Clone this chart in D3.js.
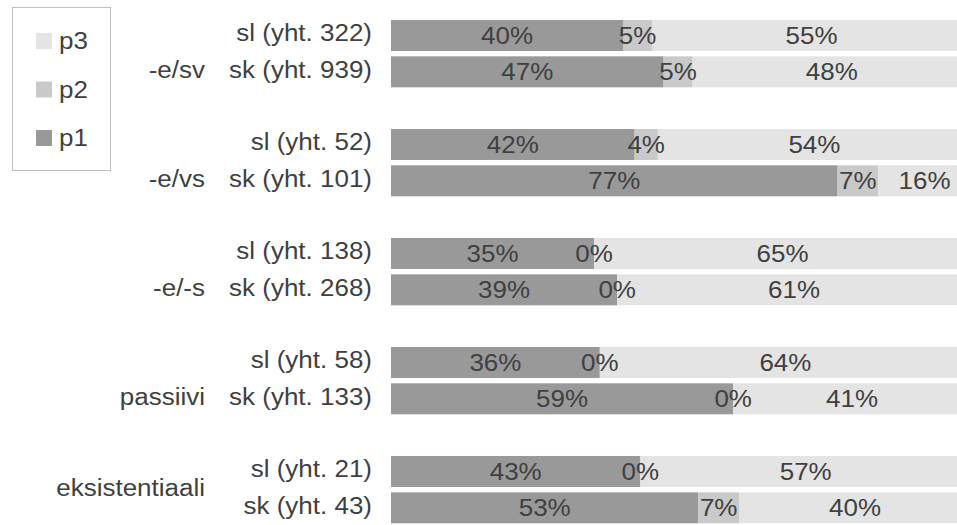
<!DOCTYPE html>
<html><head><meta charset="utf-8">
<script src="https://cdn.jsdelivr.net/npm/d3@7"></script>
<style>body{margin:0;background:#fff}svg{display:block}text{font-family:"Liberation Sans",Arial,sans-serif;fill:#404040}</style>
</head><body>
<script>
const groups = ["-e/sv", "-e/vs", "-e/-s", "passiivi", "eksistentiaali"];
const rowLabels = [
  ["sl (yht. 322)", "sk (yht. 939)"],
  ["sl (yht. 52)", "sk (yht. 101)"],
  ["sl (yht. 138)", "sk (yht. 268)"],
  ["sl (yht. 58)", "sk (yht. 133)"],
  ["sl (yht. 21)", "sk (yht. 43)"]
];
const series = ["p1", "p2", "p3"];
const p1 = [40, 47, 42, 77, 35, 39, 36, 59, 43, 53];
const p2 = [5, 5, 4, 7, 0, 0, 0, 0, 0, 7];
const p3 = [55, 48, 54, 16, 65, 61, 64, 41, 57, 40];
const colors = {p1: "#999999", p2: "#c9c9c9", p3: "#e4e4e4"};

const W = 957, H = 525, FS = 23, SX = 1.13;
const svg = d3.select("body").append("svg").attr("width", W).attr("height", H);

// rows: each group has sl, sk and a gap row (except the last)
const rows = [];
const data = [];
let k = 0;
groups.forEach((g, gi) => {
  rowLabels[gi].forEach((lab) => {
    const key = g + "|" + lab;
    rows.push(key);
    data.push({key, group: g, label: lab, p1: p1[k], p2: p2[k], p3: p3[k]});
    k++;
  });
  if (gi < groups.length - 1) rows.push(g + "|gap");
});

const y = d3.scaleBand().domain(rows).range([20, 523.3]).paddingInner(0.147).paddingOuter(0);
const x = d3.scaleLinear().domain([0, 100]).range([391, 971]);
const stack = d3.stack().keys(series)(data);

const gBars = svg.append("g");
stack.forEach(s => {
  gBars.selectAll(null).data(s).join("rect")
    .attr("x", d => x(d[0])).attr("width", d => x(d[1]) - x(d[0]))
    .attr("y", d => y(d.data.key)).attr("height", y.bandwidth())
    .attr("fill", colors[s.key]);
});

function stretchText(sel, xf, yf, anchor) {
  return sel.attr("transform", d => `translate(${xf(d)},${yf(d)}) scale(${SX},1)`)
    .attr("text-anchor", anchor).attr("font-size", FS);
}

stack.forEach(s => {
  stretchText(svg.append("g").selectAll(null).data(s).join("text"),
    d => (x(d[0]) + x(d[1])) / 2,
    d => y(d.data.key) + y.bandwidth() / 2 + 8.5, "middle")
    .text(d => (d[1] - d[0]) + "%");
});

// row labels
stretchText(svg.append("g").selectAll(null).data(data).join("text"),
  () => 372, d => y(d.key) + y.bandwidth() / 2 + 6, "end")
  .text(d => d.label);

// group labels
const gl = groups.map((g, gi) => {
  const keys = rows.filter(r => r.startsWith(g + "|"));
  const top = y(keys[0]), bot = y(keys[keys.length - 1]) + y.bandwidth();
  return {g, cy: (top + bot) / 2};
});
stretchText(svg.append("g").selectAll(null).data(gl).join("text"),
  () => 205, d => d.cy + 6, "end").text(d => d.g);

// legend
const leg = svg.append("g");
leg.append("rect").attr("x", 12.5).attr("y", 7.5).attr("width", 98).attr("height", 163)
  .attr("fill", "#fff").attr("stroke", "#bfbfbf");
const legItems = ["p3", "p2", "p1"];
const ly = d3.scalePoint().domain(legItems).range([41, 138]);
leg.selectAll(null).data(legItems).join("rect")
  .attr("x", 36).attr("y", d => ly(d) - 8).attr("width", 16).attr("height", 16)
  .attr("fill", d => colors[d]);
stretchText(leg.selectAll(null).data(legItems).join("text"),
  () => 59, d => ly(d) + 8, "start").text(d => d);
</script>
</body></html>
